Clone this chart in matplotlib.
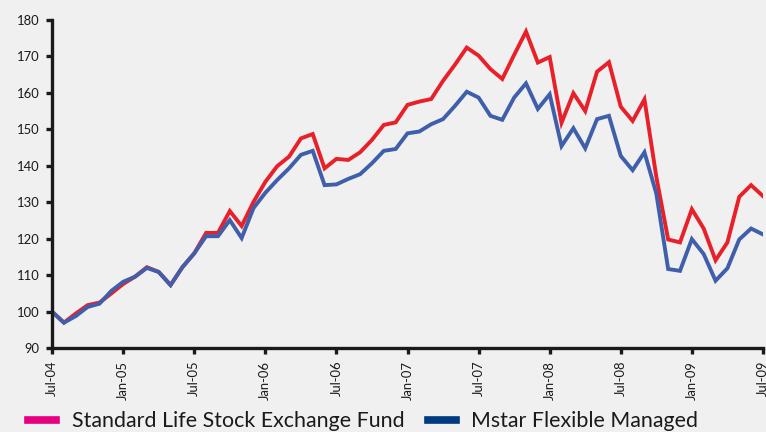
import numpy as np
import matplotlib
matplotlib.use("Agg")
from matplotlib import pyplot as plt
from matplotlib.lines import Line2D

# monthly index values, Jul-04 .. Jul-09
tick_labels = ["Jul-04", "Jan-05", "Jul-05", "Jan-06", "Jul-06", "Jan-07",
               "Jul-07", "Jan-08", "Jul-08", "Jan-09", "Jul-09"]

sl_fund = [100, 97.0, 99.5, 101.8, 102.5, 105.0, 107.6, 109.6, 112.2, 110.9,
           107.3, 112.2, 116.0, 121.6, 121.6, 127.6, 123.5, 130.1, 135.6, 139.9,
           142.5, 147.5, 148.7, 139.3, 141.9, 141.6, 143.7, 147.1, 151.2, 151.9,
           156.7, 157.6, 158.3, 163.3, 167.7, 172.4, 170.2, 166.5, 163.8, 170.4,
           176.8, 168.3, 169.8, 151.8, 159.9, 155.0, 165.8, 168.4, 156.2, 152.3,
           158.2, 137.0, 119.8, 119.0, 128.1, 122.8, 114.1, 119.0, 131.5, 134.7,
           131.7]

mstar = [100, 97.0, 98.8, 101.3, 102.2, 105.7, 108.2, 109.6, 112.0, 110.9,
         107.3, 112.2, 116.0, 120.7, 120.7, 125.1, 120.2, 128.4, 132.6, 136.1,
         139.3, 143.0, 144.1, 134.7, 134.9, 136.4, 137.7, 140.7, 144.1, 144.6,
         148.9, 149.4, 151.4, 152.8, 156.4, 160.3, 158.7, 153.7, 152.6, 158.7,
         162.6, 155.6, 159.6, 145.4, 150.3, 144.8, 152.8, 153.7, 142.7, 138.8,
         143.7, 132.4, 111.7, 111.2, 119.9, 115.8, 108.5, 111.9, 119.8, 122.8,
         121.2]

bg = "#f0f0f0"
plt.rcParams['font.family'] = ['Lato', 'DejaVu Sans']

fig = plt.figure(figsize=(7.66, 4.32), dpi=100, facecolor=bg)
ax = fig.add_axes([0.068, 0.194, 0.928, 0.760], facecolor=bg)

x = np.arange(len(sl_fund))
ax.plot(x, sl_fund, color="#e8202a", lw=2.8, solid_joinstyle="miter")
ax.plot(x, mstar, color="#3f5faa", lw=2.8, solid_joinstyle="miter")

ax.set_xlim(0, 60)
ax.set_ylim(90, 180)
ax.set_yticks(np.arange(90, 181, 10))
ax.set_xticks(np.arange(0, 61, 6))
ax.set_xticklabels(tick_labels, rotation=90)

for s in ["top", "right"]:
    ax.spines[s].set_visible(False)
for s in ["left", "bottom"]:
    ax.spines[s].set_linewidth(2.4)
    ax.spines[s].set_color("#1a1a1a")
ax.tick_params(axis="both", direction="out", length=4.5, width=2.4,
               color="#1a1a1a", labelsize=9.4, labelcolor="#1a1a1a", pad=4.5)

handles = [Line2D([], [], color="#e6007e", lw=5.5),
           Line2D([], [], color="#003a80", lw=5.5)]
fig.legend(handles, ["Standard Life Stock Exchange Fund", "Mstar Flexible Managed"],
           loc="lower left", bbox_to_anchor=(0.012, -0.043), ncol=2, frameon=False,
           fontsize=15.4, handlelength=1.3, columnspacing=1.1, handletextpad=0.72,
           labelcolor="#1a1a1a")

fig.savefig("out.png", dpi=100, facecolor=bg)
